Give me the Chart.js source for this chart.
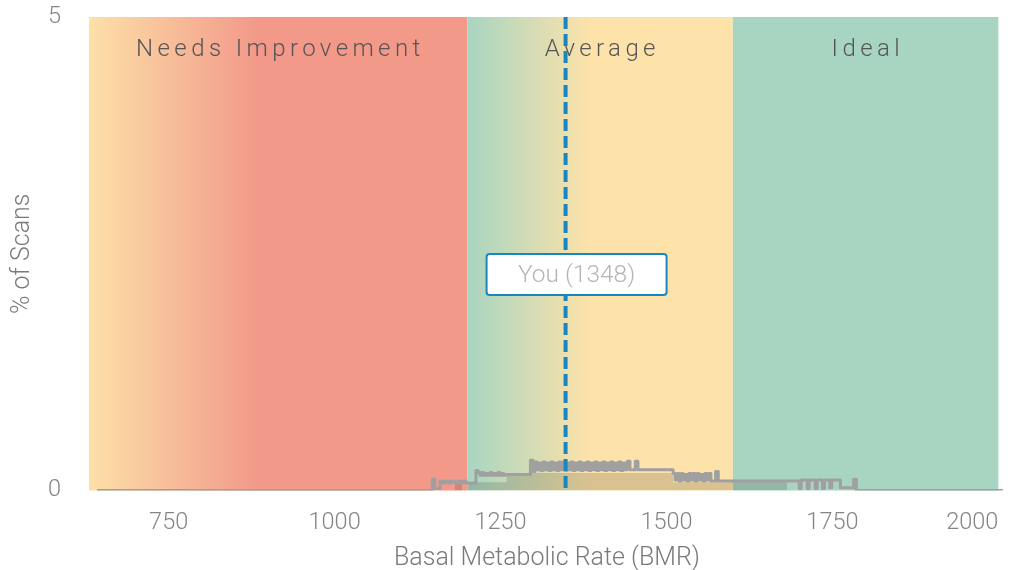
<!DOCTYPE html>
<html>
<head>
<meta charset="utf-8">
<script src="https://cdn.jsdelivr.net/npm/chart.js@4"></script>
<style>
    html, body { margin: 0; padding: 0; background: #fff; }
    #wrap { width: 1013px; height: 570px; }
</style>
</head>
<body>
<div id="wrap"><canvas id="bmrChart"></canvas></div>
<script>
const xMin = 630;
const xMax = 2010;
const xTicks = [750, 1000, 1250, 1500, 1750, 2000];
const yTicks = [0, 5];

const zoneNames = ['Needs Improvement', 'Average', 'Ideal'];
const zoneFrom = [630, 1200, 1600];
const zoneTo = [1200, 1600, 2000];

const yourBmr = 1348;
const yourLabel = 'You (1348)';

// distribution of scans (step line)
const scanBmr = [642, 1147, 1151, 1159, 1163, 1167, 1172, 1176, 1181, 1186, 1190, 1194, 1198,
    1213, 1216, 1219, 1222, 1225, 1228, 1231, 1234, 1237, 1240, 1243, 1246, 1249, 1252, 1255, 1257,
    1295, 1299, 1302, 1305, 1308, 1311, 1314, 1317, 1320, 1323, 1326, 1329, 1332, 1335, 1338,
    1341, 1344, 1347, 1350, 1353, 1356, 1359, 1362, 1365, 1368, 1371, 1374, 1377, 1380, 1383,
    1386, 1389, 1392, 1395, 1398, 1401, 1404, 1407, 1410, 1413, 1416, 1419, 1422, 1425, 1428,
    1431, 1434, 1437, 1441, 1445, 1453, 1457, 1460,
    1510, 1513, 1516, 1519, 1522, 1525, 1528, 1531, 1534, 1537, 1540, 1543, 1546, 1549, 1552,
    1555, 1558, 1561, 1564, 1567, 1574, 1578,
    1700, 1703, 1712, 1715, 1724, 1727, 1735, 1738, 1746, 1749, 1762, 1782, 1786, 2007];
const scanPct = [0, 0.12, 0.02, 0.1, 0.08, 0.1, 0.08, 0.1, 0.08, 0.1, 0.08, 0.1, 0.08,
    0.21, 0.19, 0.16, 0.19, 0.16, 0.18, 0.16, 0.19, 0.16, 0.18, 0.16, 0.19, 0.16, 0.18, 0.16, 0.17,
    0.32, 0.2, 0.3, 0.22, 0.29, 0.21, 0.3, 0.22, 0.29, 0.21, 0.3, 0.22, 0.29, 0.21, 0.3,
    0.22, 0.3, 0.21, 0.29, 0.22, 0.3, 0.21, 0.29, 0.22, 0.3, 0.21, 0.29, 0.22, 0.3, 0.21,
    0.29, 0.22, 0.3, 0.21, 0.29, 0.22, 0.3, 0.21, 0.29, 0.22, 0.3, 0.21, 0.29, 0.22, 0.3,
    0.21, 0.29, 0.22, 0.31, 0.22, 0.31, 0.22, 0.22,
    0.18, 0.11, 0.18, 0.1, 0.18, 0.11, 0.17, 0.1, 0.18, 0.11, 0.18, 0.1, 0.18, 0.11, 0.17,
    0.1, 0.18, 0.11, 0.18, 0.1, 0.2, 0.1,
    0.02, 0.11, 0.02, 0.11, 0.02, 0.11, 0.02, 0.11, 0.03, 0.11, 0.03, 0.12, 0, 0];

// smoothed share shaded under the line
const fillBmr = [1181, 1192, 1200, 1259, 1510, 1596, 1682];
const fillPct = [0.087, 0, 0.087, 0.185, 0.087, 0.09, 0];

const FONT = "'Helvetica Neue', Roboto, 'Liberation Sans', sans-serif";

const zonesPlugin = {
    id: 'zones',
    beforeDatasetsDraw(chart) {
        const { ctx, chartArea, scales: { x } } = chart;
        const fades = [
            { from: '#fde0a8', to: '#f2998a', upTo: 885 },
            { from: '#a8d5c1', to: '#fde2aa', upTo: 1385 },
            { from: '#a8d5c1', to: '#a8d5c1', upTo: 2000 }
        ];
        ctx.save();
        zoneNames.forEach((name, i) => {
            const x0 = x.getPixelForValue(zoneFrom[i]);
            const x1 = x.getPixelForValue(zoneTo[i]);
            const xf = x.getPixelForValue(fades[i].upTo);
            const grad = ctx.createLinearGradient(x0, 0, xf, 0);
            grad.addColorStop(0, fades[i].from);
            grad.addColorStop(1, fades[i].to);
            ctx.fillStyle = grad;
            ctx.fillRect(x0, chartArea.top, x1 - x0, chartArea.bottom - chartArea.top);
        });
        ctx.restore();
    },
    afterDatasetsDraw(chart) {
        const { ctx, chartArea, scales: { x, y } } = chart;
        ctx.save();
        // zone titles
        ctx.font = '300 24px ' + FONT;
        ctx.fillStyle = '#555';
        ctx.textAlign = 'center';
        ctx.textBaseline = 'middle';
        ctx.letterSpacing = '4.4px';
        zoneNames.forEach((name, i) => {
            const cx = (x.getPixelForValue(zoneFrom[i]) + x.getPixelForValue(zoneTo[i])) / 2;
            ctx.fillText(name, cx + 2.2, chartArea.top + 33);
        });
        ctx.letterSpacing = '0px';

        // your marker
        const px = x.getPixelForValue(yourBmr);
        ctx.strokeStyle = '#1887bf';
        ctx.lineWidth = 4;
        ctx.setLineDash([12, 5]);
        ctx.beginPath();
        ctx.moveTo(px, chartArea.top);
        ctx.lineTo(px, chartArea.bottom);
        ctx.stroke();
        ctx.setLineDash([]);

        const py = y.getPixelForValue(2.28);
        const bw = 180, bh = 41;
        const bx = px + 11 - bw / 2;
        ctx.fillStyle = '#fff';
        ctx.lineWidth = 2;
        ctx.beginPath();
        ctx.roundRect(bx, py - bh / 2, bw, bh, 3);
        ctx.fill();
        ctx.stroke();
        ctx.fillStyle = '#b5b5b5';
        ctx.font = '300 24.5px ' + FONT;
        ctx.fillText(yourLabel, bx + bw / 2, py + 1);
        ctx.restore();
    }
};

const ctx = document.getElementById('bmrChart').getContext('2d');
new Chart(ctx, {
    type: 'line',
    data: {
        datasets: [{
            label: 'Scans',
            data: scanBmr.map((v, i) => ({ x: v, y: scanPct[i] })),
            stepped: true,
            borderColor: '#a0a0a0',
            borderWidth: 3,
            borderJoinStyle: 'round',
            pointRadius: 0,
            fill: false
        }, {
            label: 'Shaded',
            data: fillBmr.map((v, i) => ({ x: v, y: fillPct[i] })),
            stepped: true,
            borderWidth: 0,
            borderColor: 'rgba(0,0,0,0)',
            backgroundColor: 'rgba(40,30,10,0.16)',
            pointRadius: 0,
            fill: 'origin'
        }]
    },
    options: {
        responsive: true,
        maintainAspectRatio: false,
        animation: false,
        layout: { padding: { top: 17, right: 8, left: 0, bottom: 0 } },
        plugins: {
            legend: { display: false },
            tooltip: { enabled: false }
        },
        scales: {
            x: {
                type: 'linear',
                min: xMin,
                max: xMax,
                border: { display: false },
                grid: { display: false, drawTicks: false },
                afterBuildTicks: (scale) => {
                    scale.ticks = [{ value: xMin }].concat(xTicks.map(v => ({ value: v })));
                },
                afterFit: (scale) => {
                    scale.height = 79.5;
                    scale.paddingLeft = 0;
                    scale.paddingRight = 0;
                },
                ticks: {
                    align: 'inner',
                    padding: 19,
                    maxRotation: 0,
                    autoSkip: false,
                    color: '#858585',
                    font: { family: FONT, size: 23.5, weight: '300' },
                    callback: (v) => xTicks.includes(v) ? String(v) : ''
                },
                title: {
                    display: true,
                    text: 'Basal Metabolic Rate (BMR)',
                    color: '#7a7a7a',
                    padding: { top: 0, bottom: -4 },
                    font: { family: FONT, size: 25, weight: '300' }
                }
            },
            y: {
                min: 0,
                max: 5,
                border: { display: false },
                grid: { display: false, drawTicks: false },
                afterBuildTicks: (scale) => {
                    scale.ticks = yTicks.map(v => ({ value: v }));
                },
                afterFit: (scale) => {
                    scale.width = 89;
                    scale.paddingTop = 0;
                    scale.paddingBottom = 0;
                },
                ticks: {
                    padding: 28,
                    color: '#858585',
                    font: { family: FONT, size: 23.5, weight: '300' }
                },
                title: {
                    display: true,
                    text: '% of Scans',
                    color: '#7a7a7a',
                    padding: { top: 8, bottom: 0 },
                    font: { family: FONT, size: 25, weight: '300' }
                }
            }
        }
    },
    plugins: [zonesPlugin]
});
</script>
</body>
</html>
